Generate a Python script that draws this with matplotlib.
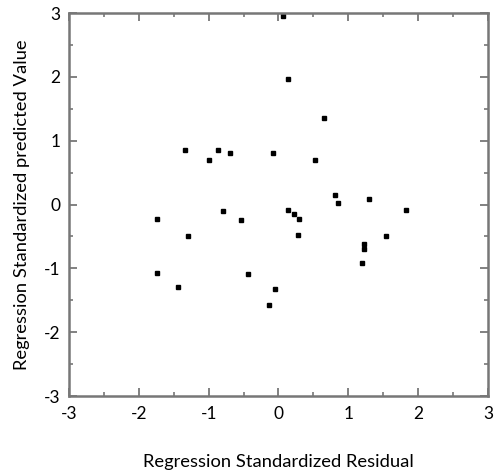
import matplotlib.pyplot as plt
from matplotlib.ticker import MultipleLocator

plt.rcParams['font.family'] = ['Lato', 'DejaVu Sans']
plt.rcParams['axes.unicode_minus'] = False

# residuals (x) and predicted values (y)
residual = [0.06, 0.14, 0.65, -1.34, -0.86, -0.99, -0.70, -0.08, 0.52,
            -1.74, -1.30, -0.79, -0.54, -1.74, -1.44, -0.44,
            0.14, 0.22, 0.29, 0.28, 0.81, 0.85, 1.29, 1.83,
            1.54, 1.23, 1.23, 1.20, -0.05, -0.13]
predicted = [2.96, 1.96, 1.35, 0.85, 0.86, 0.70, 0.80, 0.80, 0.70,
             -0.22, -0.49, -0.10, -0.24, -1.08, -1.29, -1.09,
             -0.09, -0.15, -0.22, -0.47, 0.15, 0.03, 0.08, -0.08,
             -0.49, -0.62, -0.69, -0.91, -1.32, -1.58]

fig = plt.figure(figsize=(4.94, 4.76), dpi=100)
ax = fig.add_axes([0.1397, 0.168, 0.848, 0.8046])

ax.plot(residual, predicted, 's', color='black', markersize=3.3, linestyle='none', clip_on=False)

ax.set_xlim(-3, 3)
ax.set_ylim(-3, 3)
ax.xaxis.set_major_locator(MultipleLocator(1))
ax.yaxis.set_major_locator(MultipleLocator(1))
ax.xaxis.set_minor_locator(MultipleLocator(0.5))
ax.yaxis.set_minor_locator(MultipleLocator(0.5))

ax.tick_params(which='both', direction='in', top=True, right=True, color='#777777', labelsize=12.5)
ax.tick_params(which='major', length=6, width=1.3, pad=7)
ax.tick_params(which='minor', length=3, width=1.2)
ax.tick_params(axis='y', pad=6)
for s in ax.spines.values():
    s.set_color('#777777')
    s.set_linewidth(1.8)

ax.set_xlabel('Regression Standardized Residual', fontsize=13.2, labelpad=23)
ax.set_ylabel('Regression Standardized predicted Value', fontsize=13.2, labelpad=10)

plt.savefig('out.png', dpi=100)
